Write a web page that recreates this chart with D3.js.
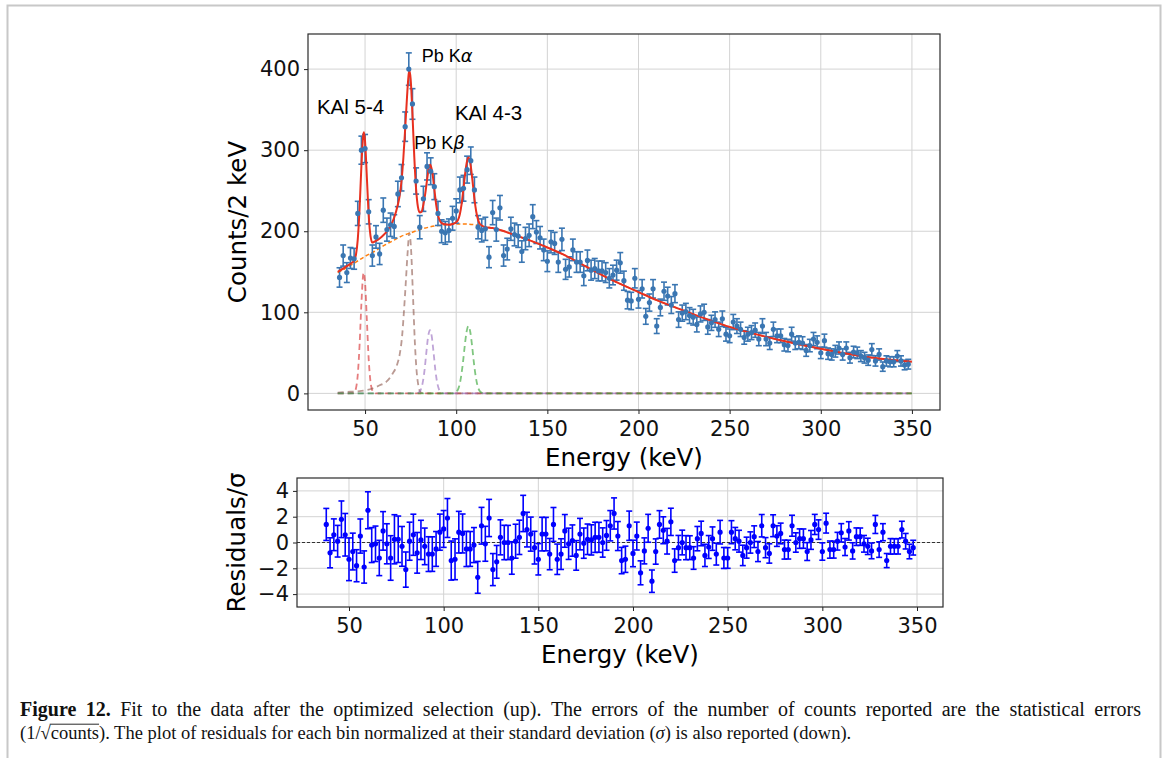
<!DOCTYPE html>
<html>
<head>
<meta charset="utf-8">
<script src="https://cdn.jsdelivr.net/npm/d3@7"></script>
<style>
  body { margin: 0; background: #fff; }
  svg { display: block; }
</style>
</head>
<body>
<div id="chart"></div>
<script>
// ---- data ----
// bin centres (keV) of the spectrum
const energy = [36,38,40,42,44,46,48,50,52,54,56,58,60,62,64,66,68,70,72,74,76,78,80,82,84,86,88,90,92,94,96,98,100,102,104,106,108,110,112,114,116,118,120,122,124,126,128,130,132,134,136,138,140,142,144,146,148,150,152,154,156,158,160,162,164,166,168,170,172,174,176,178,180,182,184,186,188,190,192,194,196,198,200,202,204,206,208,210,212,214,216,218,220,222,224,226,228,230,232,234,236,238,240,242,244,246,248,250,252,254,256,258,260,262,264,266,268,270,272,274,276,278,280,282,284,286,288,290,292,294,296,298,300,302,304,306,308,310,312,314,316,318,320,322,324,326,328,330,332,334,336,338,340,342,344,346,348];
const counts = [143,170,149,167,166,222,300,302,224,170,193,172,226,202,208,206,246,266,329,400,357,262,205,240,280,274,255,222,200,198,201,216,225,251,253,276,287,251,205,201,203,168,223,202,229,170,178,203,196,194,175,191,195,218,199,192,177,163,187,185,162,190,153,156,177,162,162,145,164,152,154,151,151,149,142,146,152,161,139,115,114,142,116,129,95,112,129,83,106,126,120,109,123,91,99,101,96,94,85,98,100,82,87,91,79,92,73,71,88,83,79,69,73,75,78,67,83,67,62,79,71,71,60,59,73,62,63,62,53,59,67,63,50,65,49,48,52,56,48,56,44,51,50,46,44,41,54,40,48,33,40,39,39,46,40,35,36];

// residual panel starts one bin later than the spectrum
const resEnergy = energy.slice(1);
const residuals = [1.4,-0.8,0.6,0.1,1.8,0.6,-1.3,-0.7,-1.8,0.5,
  -1.9,2.5,-0.2,-0.1,-1.2,0.9,-0.1,-1.2,0.25,0.25,
  -0.3,-2.1,0.1,0.6,-0.8,0.2,-0.3,-0.9,-0.9,-0.5,
  0.8,1.05,1.9,-1.4,-1.3,0.8,0.7,-0.5,-0.5,-0.2,
  -2.7,1.3,-0.1,1.9,-2.1,-1.5,0.4,0.0,0.0,-1.2,
  0.1,0.4,2.25,1.0,0.65,-0.4,-1.3,0.65,0.65,-0.9,
  1.4,-1.3,-0.9,0.9,-0.1,0.15,-1.0,0.65,-0.05,0.25,
  0.2,0.4,0.4,0.0,0.55,1.3,2.25,0.5,-1.4,-1.3,
  1.3,-0.85,0.5,-2.35,-0.65,1.1,-3.0,-0.7,1.4,0.95,
  0.1,1.6,-1.4,-0.4,0.0,-0.4,-0.4,-1.2,0.3,0.7,
  -1.0,-0.35,0.3,-0.9,0.8,-1.2,-1.2,0.8,0.3,0.1,
  -1.0,-0.4,0.0,0.45,-0.7,1.3,-0.4,-0.85,1.3,0.5,
  0.7,-0.55,-0.55,1.3,0.0,0.3,0.3,-0.7,0.2,1.4,
  1.0,-0.7,1.5,-0.55,-0.55,0.1,0.75,-0.35,0.9,-0.65,
  0.45,0.45,-0.1,-0.3,-0.65,1.4,-0.55,0.8,-1.4,-0.3,
  -0.3,-0.3,1.0,0.1,-0.7,-0.4];
const residualScale = 10.5; // sigma used to normalise sqrt(counts) errors

// total fit (red)
const fitEnergy = [35,38,40,42,44,45,46,47,48,49,49.4,50,51,52,53,54,55,56,58,60,62,64,66,68,69,70,71,72,73,74,74.4,75,76,77,78,79,80,81,82,83,84,85,85.7,86,87,88,89,90,91,92,94,96,98,100,101,102,103,104,105,106,106.7,107,108,109,110,111,112,113,114,116,120,125,130,135,140,150,160,170,180,190,200,210,225,250,275,300,325,350];
const fitCounts = [150,154,157,160,164,171,190,228,281,318,322,311,266,220,194,186,187,188,191,195,200,207,217,233,244,262,290,326,365,395,398,388,345,292,252,230,223,224,233,246,263,278,282,281,271,252,233,220,213,210,208.5,208,209,211,214,221,234,253,273,287,291,290,280,261,240,224,214,209,207,205,204,201,197,193,189,180,170,158,146,135,125,115,102,82,67,55,45,39];

// background (orange dashed)
const bgEnergy = [35,40,45,50,55,60,65,70,75,80,85,90,95,100,105,110,115,120,125,130,135,140,150,160,170,180,190,200,210,225,250,275,300,325,350];
const bgCounts = [149,155,162,169,175,182,188,194,198,202,205,207,208,209,209,208,206,204,201,197,193,189,180,170,158,146,135,125,115,102,82,67,55,45,39];

// single peaks (dashed)
const kal54Energy = [35,43,44,45,46,47,48,49,49.3,50,51,52,53,54,55,56,350];
const kal54Counts = [0,0.2,1,6,23,60,111,147,149,137,90,42,14,3.3,0.5,0,0];
const pbKaEnergy = [35,42,48,54,58,62,65,67.5,69,70.3,71.3,72.3,73.3,74.3,75.3,76.3,77.3,78.3,79.3,80.3,81.5,83,350];
const pbKaCounts = [1,2,3,6,10,15,24,35,48,70,100,135,172,198,175,120,64,27,9,2,0.3,0,0];
const pbKbEnergy = [35,78,79.6,80.6,81.6,82.6,83.6,84.6,85.6,86.6,87.6,88.6,89.6,90.6,91.6,93,350];
const pbKbCounts = [0,0,1.3,4.6,13,28,50,70,78,70,50,28,13,4.6,1.3,0,0];
const kal43Energy = [35,98.5,99.7,100.7,101.7,102.7,103.7,104.7,105.7,106.7,107.7,108.7,109.7,110.7,111.7,112.7,113.7,115,350];
const kal43Counts = [0,0,1.2,3.6,9.4,21,38,59,76,83,76,59,38,21,9.4,3.6,1.2,0,0];

const xTicks = [50,100,150,200,250,300,350];
const yTicks = [0,100,200,300,400];
const resTicks = [-4,-2,0,2,4];
const peakNames = ["KAl 5-4", "Pb K", "Pb K", "KAl 4-3"];

// ---- drawing ----
const W = 1167, H = 758;
const svg = d3.select("#chart").append("svg").attr("width", W).attr("height", H);
svg.append("rect").attr("width", W).attr("height", H).attr("fill", "#fff");
svg.append("path").attr("d", "M7.5,758V5.5H1160.5V758")
  .attr("fill", "none").attr("stroke", "#c8c8c8").attr("stroke-width", 2);

const pTop = { left: 308, right: 940, top: 34, bottom: 410 };
const pRes = { left: 297, right: 943, top: 478, bottom: 607 };

const x = d3.scaleLinear().domain([18.7, 365.4]).range([pTop.left, pTop.right]);
const y = d3.scaleLinear().domain([-20.5, 443.3]).range([pTop.bottom, pTop.top]);
const xr = d3.scaleLinear().domain([22.54, 363.73]).range([pRes.left, pRes.right]);
const yr = d3.scaleLinear().domain([-5, 5]).range([pRes.bottom, pRes.top]);

const tickFont = "DejaVu Sans, sans-serif";

function grid(g, xs, ys, xt, yt, box) {
  g.selectAll(".gx").data(xt).enter().append("line")
    .attr("x1", d => xs(d)).attr("x2", d => xs(d))
    .attr("y1", box.top).attr("y2", box.bottom)
    .attr("stroke", "#d3d3d3").attr("stroke-width", 1);
  g.selectAll(".gy").data(yt).enter().append("line")
    .attr("x1", box.left).attr("x2", box.right)
    .attr("y1", d => ys(d)).attr("y2", d => ys(d))
    .attr("stroke", "#d3d3d3").attr("stroke-width", 1);
}

function axes(g, xs, ys, xt, yt, box) {
  let ax = g.append("g").attr("transform", "translate(0," + box.bottom + ")")
    .call(d3.axisBottom(xs).tickValues(xt).tickSize(4).tickPadding(7).tickFormat(d3.format("d")));
  let ay = g.append("g").attr("transform", "translate(" + box.left + ",0)")
    .call(d3.axisLeft(ys).tickValues(yt).tickSize(4).tickPadding(4).tickFormat(d3.format("d")));
  [ax, ay].forEach(a => {
    a.select(".domain").remove();
    a.selectAll(".tick line").attr("stroke", "#222").attr("stroke-width", 1);
    a.selectAll("text").attr("font-family", tickFont).attr("font-size", 21).attr("fill", "#111");
  });
  g.append("rect").attr("x", box.left).attr("y", box.top)
    .attr("width", box.right - box.left).attr("height", box.bottom - box.top)
    .attr("fill", "none").attr("stroke", "#2a2a2a").attr("stroke-width", 1.2);
}

// top panel
const gTop = svg.append("g");
grid(gTop, x, y, xTicks, yTicks, pTop);

const line = d3.line().x(d => x(d[0])).y(d => y(d[1])).curve(d3.curveMonotoneX);
const comps = [
  { e: kal54Energy, v: kal54Counts, c: "#d62728" },
  { e: pbKaEnergy, v: pbKaCounts, c: "#8c564b" },
  { e: pbKbEnergy, v: pbKbCounts, c: "#9467bd" },
  { e: kal43Energy, v: kal43Counts, c: "#2ca02c" }
];
comps.forEach(p => {
  gTop.append("path").datum(d3.zip(p.e, p.v)).attr("d", line)
    .attr("fill", "none").attr("stroke", p.c).attr("stroke-opacity", 0.6)
    .attr("stroke-width", 1.8).attr("stroke-dasharray", "6,4");
});
gTop.append("path").datum(d3.zip(bgEnergy, bgCounts)).attr("d", line)
  .attr("fill", "none").attr("stroke", "#ff7f0e").attr("stroke-width", 1.5)
  .attr("stroke-dasharray", "4,2.5");

const blue = "#3a76b2";
const pts = d3.zip(energy, counts);
const eb = gTop.append("g").attr("stroke", blue).attr("stroke-width", 1.6);
pts.forEach(d => {
  const err = Math.sqrt(d[1]); // statistical error, see caption
  const px = x(d[0]), y1 = y(d[1] - err), y2 = y(d[1] + err);
  eb.append("line").attr("x1", px).attr("x2", px).attr("y1", y1).attr("y2", y2);
  eb.append("line").attr("x1", px - 3).attr("x2", px + 3).attr("y1", y1).attr("y2", y1);
  eb.append("line").attr("x1", px - 3).attr("x2", px + 3).attr("y1", y2).attr("y2", y2);
});
gTop.append("path").datum(d3.zip(fitEnergy, fitCounts)).attr("d", line)
  .attr("fill", "none").attr("stroke", "#e8301f").attr("stroke-width", 2);
gTop.selectAll(".pt").data(pts).enter().append("circle")
  .attr("cx", d => x(d[0])).attr("cy", d => y(d[1])).attr("r", 2.6).attr("fill", blue);

axes(gTop, x, y, xTicks, yTicks, pTop);

// peak labels
const lab = gTop.append("g").attr("font-family", "Liberation Sans, Arial, sans-serif").attr("fill", "#000");
lab.append("text").attr("x", x(23.6)).attr("y", y(344.6)).attr("font-size", 20.5).text(peakNames[0]);
lab.append("text").attr("x", x(99.3)).attr("y", y(337)).attr("font-size", 20.5).text(peakNames[3]);
let tka = lab.append("text").attr("x", x(81.1)).attr("y", y(409)).attr("font-size", 18).text(peakNames[1]);
tka.append("tspan").attr("font-family", tickFont).attr("font-style", "italic").text("α");
let tkb = lab.append("text").attr("x", x(77.0)).attr("y", y(301)).attr("font-size", 18).text(peakNames[2]);
tkb.append("tspan").attr("font-family", tickFont).attr("font-style", "italic").text("β");

svg.append("text").attr("x", (pTop.left + pTop.right) / 2).attr("y", pTop.bottom + 56)
  .attr("text-anchor", "middle").attr("font-family", tickFont).attr("font-size", 24.5)
  .text("Energy (keV)");
svg.append("text").attr("transform", "translate(246," + (pTop.top + pTop.bottom) / 2 + ") rotate(-90)")
  .attr("text-anchor", "middle").attr("font-family", tickFont).attr("font-size", 24.5)
  .text("Counts/2 keV");

// residual panel
const gRes = svg.append("g");
grid(gRes, xr, yr, xTicks, resTicks, pRes);
gRes.append("line").attr("x1", pRes.left).attr("x2", pRes.right)
  .attr("y1", yr(0)).attr("y2", yr(0))
  .attr("stroke", "#333").attr("stroke-width", 1).attr("stroke-dasharray", "3,2");

const rpts = d3.zip(resEnergy, residuals, counts.slice(1));
const reb = gRes.append("g").attr("stroke", "#0000ff").attr("stroke-width", 1.6);
rpts.forEach(d => {
  const err = Math.sqrt(d[2]) / residualScale;
  const px = xr(d[0]), y1 = yr(d[1] - err), y2 = yr(d[1] + err);
  reb.append("line").attr("x1", px).attr("x2", px).attr("y1", y1).attr("y2", y2);
  reb.append("line").attr("x1", px - 3).attr("x2", px + 3).attr("y1", y1).attr("y2", y1);
  reb.append("line").attr("x1", px - 3).attr("x2", px + 3).attr("y1", y2).attr("y2", y2);
});
gRes.selectAll(".rp").data(rpts).enter().append("circle")
  .attr("cx", d => xr(d[0])).attr("cy", d => yr(d[1])).attr("r", 2.6).attr("fill", "#0000ff");

axes(gRes, xr, yr, xTicks, resTicks, pRes);

svg.append("text").attr("x", (pRes.left + pRes.right) / 2).attr("y", pRes.bottom + 56)
  .attr("text-anchor", "middle").attr("font-family", tickFont).attr("font-size", 24.5)
  .text("Energy (keV)");
svg.append("text").attr("transform", "translate(245," + (pRes.top + pRes.bottom) / 2 + ") rotate(-90)")
  .attr("text-anchor", "middle").attr("font-family", tickFont).attr("font-size", 24.5)
  .text("Residuals/σ");

// caption, first line justified by spreading the words
const cap = svg.append("g").attr("font-family", "Liberation Serif, Times New Roman, serif")
  .attr("font-size", 20).attr("fill", "#111");
const capWords = ["Figure", "12."].map(w => ({ w: w, bold: true }))
  .concat("Fit to the data after the optimized selection (up). The errors of the number of counts reported are the statistical errors"
    .split(" ").map(w => ({ w: w, bold: false })));
let c1 = cap.append("text").attr("y", 716);
let spans = capWords.map(d => c1.append("tspan").attr("font-weight", d.bold ? "bold" : null).text(d.w));
let widths = spans.map(s => s.node().getComputedTextLength());
let lineStart = 20, lineEnd = 1141;
let gap = (lineEnd - lineStart - d3.sum(widths)) / (spans.length - 1);
let cx = lineStart;
spans.forEach((s, i) => { s.attr("x", cx); cx += widths[i] + gap; });

let c2 = cap.append("text").attr("x", 20).attr("y", 739).attr("font-size", 18.5);
c2.append("tspan").text("(1/√");
c2.append("tspan").text("counts");
c2.append("tspan").text("). The plot of residuals for each bin normalized at their standard deviation (");
c2.append("tspan").attr("font-style", "italic").text("σ");
c2.append("tspan").text(") is also reported (down).");
// bar of the square root over "counts" (chars 4..9)
const n2 = c2.node();
const ext0 = n2.getExtentOfChar(3), ext1 = n2.getExtentOfChar(9);
cap.append("line")
  .attr("x1", ext0.x + ext0.width - 1).attr("x2", ext1.x + ext1.width)
  .attr("y1", ext0.y + 1.2).attr("y2", ext0.y + 1.2)
  .attr("stroke", "#111").attr("stroke-width", 0.9);
</script>
</body>
</html>
